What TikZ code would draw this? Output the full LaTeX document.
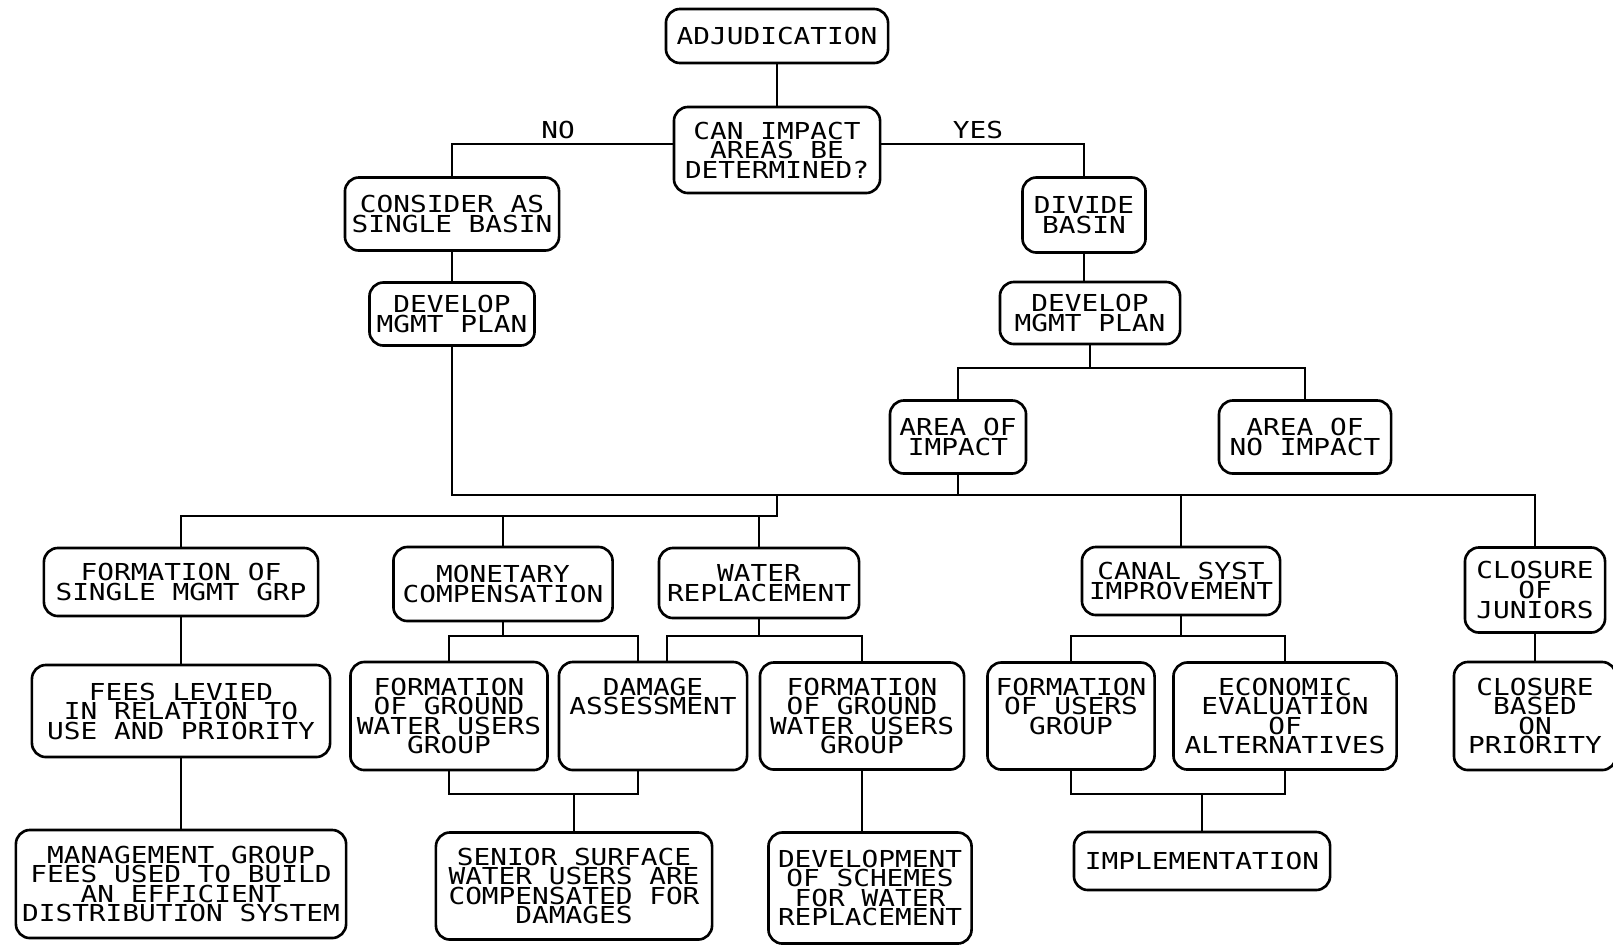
\documentclass[tikz,border=0pt]{standalone}
\usepackage{fontspec}
\usetikzlibrary{calc}
\newfontfamily\plotfont[FakeStretch=1.19]{DejaVu Sans Mono}

\begin{document}
\begin{tikzpicture}[x=0.01cm,y=-0.01cm,
  box/.style={draw,rounded corners=0.14cm,line width=0.75pt,align=center,inner sep=0pt,font={\plotfont\fontsize{6.64pt}{5.55pt}\selectfont}},
  lbl/.style={font={\plotfont\fontsize{6.64pt}{5.55pt}\selectfont}},
  link/.style={line width=0.75pt}]
\useasboundingbox (0,0) rectangle (1613,945);
\node[box,minimum width=2.22cm,minimum height=0.54cm] (adj) at (777,36) {ADJUDICATION};
\node[box,minimum width=2.06cm,minimum height=0.86cm] (can) at (777,150) {CAN IMPACT\\AREAS BE\\DETERMINED?};
\node[lbl] (no) at (558,130) {NO};
\node[lbl] (yes) at (978,130) {YES};
\node[box,minimum width=2.14cm,minimum height=0.73cm] (cons) at (452,214) {CONSIDER AS\\SINGLE BASIN};
\node[box,minimum width=1.23cm,minimum height=0.75cm] (div) at (1084,215) {DIVIDE\\BASIN};
\node[box,minimum width=1.65cm,minimum height=0.63cm] (dev1) at (452,314) {DEVELOP\\MGMT PLAN};
\node[box,minimum width=1.80cm,minimum height=0.62cm] (dev2) at (1090,313) {DEVELOP\\MGMT PLAN};
\node[box,minimum width=1.36cm,minimum height=0.73cm] (aoi) at (958,437) {AREA OF\\IMPACT};
\node[box,minimum width=1.72cm,minimum height=0.73cm] (anoi) at (1305,437) {AREA OF\\NO IMPACT};
\node[box,minimum width=2.74cm,minimum height=0.68cm] (fsing) at (181,582) {FORMATION OF\\SINGLE MGMT GRP};
\node[box,minimum width=2.19cm,minimum height=0.74cm] (mon) at (503,584) {MONETARY\\COMPENSATION};
\node[box,minimum width=2.00cm,minimum height=0.70cm] (wrep) at (759,583) {WATER\\REPLACEMENT};
\node[box,minimum width=1.98cm,minimum height=0.68cm] (canal) at (1181,581) {CANAL SYST\\IMPROVEMENT};
\node[box,minimum width=1.40cm,minimum height=0.85cm] (cjun) at (1535,590) {CLOSURE\\OF\\JUNIORS};
\node[box,minimum width=2.98cm,minimum height=0.92cm] (fees) at (181,711) {FEES LEVIED\\IN RELATION TO\\USE AND PRIORITY};
\node[box,minimum width=1.97cm,minimum height=1.08cm] (fgw1) at (449,716) {FORMATION\\OF GROUND\\WATER USERS\\GROUP};
\node[box,minimum width=1.88cm,minimum height=1.08cm] (dam) at (653,716) {DAMAGE\\ASSESSMENT\\~\\~};
\node[box,minimum width=2.04cm,minimum height=1.07cm] (fgw2) at (862,716) {FORMATION\\OF GROUND\\WATER USERS\\GROUP};
\node[box,minimum width=1.67cm,minimum height=1.07cm] (fuse) at (1071,716) {FORMATION\\OF USERS\\GROUP\\~};
\node[box,minimum width=2.23cm,minimum height=1.07cm] (econ) at (1285,716) {ECONOMIC\\EVALUATION\\OF\\ALTERNATIVES};
\node[box,minimum width=1.62cm,minimum height=1.08cm] (cbas) at (1535,716) {CLOSURE\\BASED\\ON\\PRIORITY};
\node[box,minimum width=3.30cm,minimum height=1.08cm] (mgmt) at (181,884) {MANAGEMENT GROUP\\FEES USED TO BUILD\\AN EFFICIENT\\DISTRIBUTION SYSTEM};
\node[box,minimum width=2.76cm,minimum height=1.07cm] (sen) at (574,886) {SENIOR SURFACE\\WATER USERS ARE\\COMPENSATED FOR\\DAMAGES};
\node[box,minimum width=2.03cm,minimum height=1.11cm] (devsch) at (870,888) {DEVELOPMENT\\OF SCHEMES\\FOR WATER\\REPLACEMENT};
\node[box,minimum width=2.56cm,minimum height=0.58cm] (impl) at (1202,861) {IMPLEMENTATION};
\coordinate (busA) at (0,144);
\coordinate (busB) at (0,368);
\coordinate (busC) at (0,495);
\coordinate (busD) at (0,516);
\coordinate (busE) at (0,636);
\coordinate (busF) at (0,794);
\coordinate (join) at (adj.south |- busC);
\coordinate (damL) at ([xshift=-0.15cm]dam.north);
\coordinate (damR) at ([xshift=0.14cm]dam.north);
\coordinate (damB) at ([xshift=-0.15cm]dam.south);
\draw[link] (adj) -- (can);
\draw[link] (can.west |- busA) -| (cons.north);
\draw[link] (can.east |- busA) -| (div.north);
\draw[link] (cons) -- (dev1);
\draw[link] (div.south) -- (div.south |- dev2.north);
\draw[link] (dev2.south) -- (dev2.south |- busB);
\draw[link] (aoi.north) |- (busB -| anoi.north) -- (anoi.north);
\draw[link] (dev1.south) |- (busC -| cjun.north) -- (cjun.north);
\draw[link] (aoi.south) -- (aoi.south |- busC);
\draw[link] (canal.north) -- (canal.north |- busC);
\draw[link] (fsing.north) |- (join |- busD) -- (join);
\draw[link] (mon.north) -- (mon.north |- busD);
\draw[link] (wrep.north) -- (wrep.north |- busD);
\draw[link] (fsing) -- (fees);
\draw[link] (fees) -- (mgmt);
\draw[link] (mon.south) -- (mon.south |- busE);
\draw[link] (fgw1.north) |- (damL |- busE) -- (damL);
\draw[link] (wrep.south) -- (wrep.south |- busE);
\draw[link] (damR) |- (busE -| fgw2.north) -- (fgw2.north);
\draw[link] (fgw1.south) |- (damB |- busF) -- (damB);
\draw[link] (sen.north) -- (sen.north |- busF);
\draw[link] (fgw2.south) -- (fgw2.south |- devsch.north);
\draw[link] (canal.south) -- (canal.south |- busE);
\draw[link] (fuse.north) |- (busE -| econ.north) -- (econ.north);
\draw[link] (fuse.south) |- (busF -| econ.south) -- (econ.south);
\draw[link] (impl.north) -- (impl.north |- busF);
\draw[link] (cjun) -- (cbas);
\end{tikzpicture}
\end{document}
